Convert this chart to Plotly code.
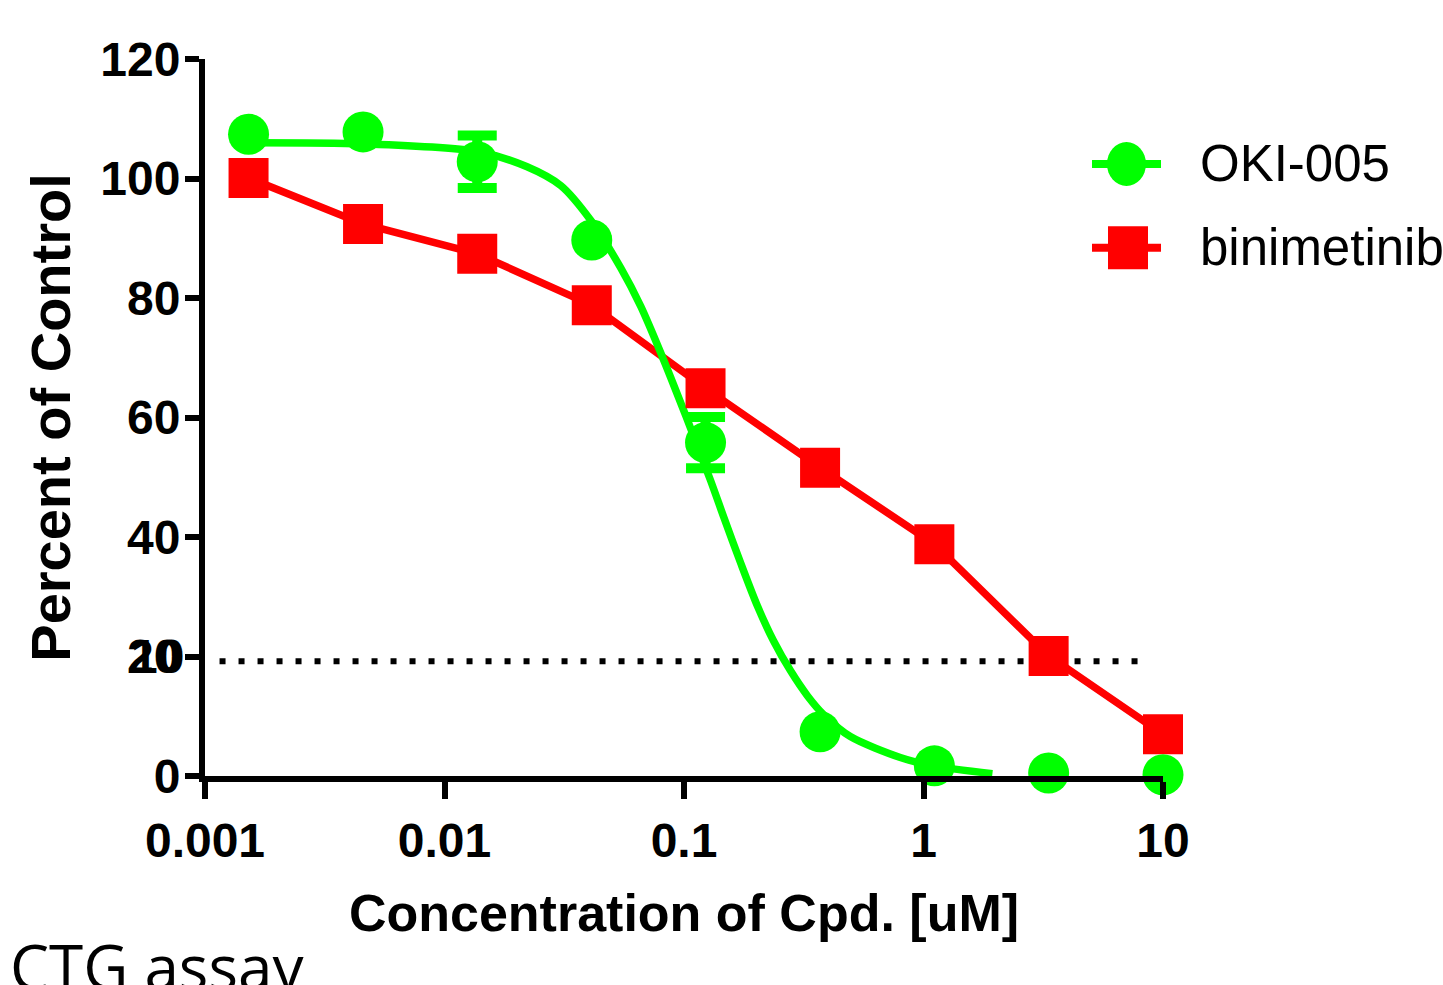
import plotly.graph_objects as go

# ---- data ----
conc = [0.00152, 0.00457, 0.0137, 0.0412, 0.123, 0.370, 1.11, 3.33, 10.0]
oki_y = [107.4, 107.8, 102.8, 89.7, 55.8, 7.4, 1.7, 0.5, 0.2]
oki_err = [0, 0, 4.4, 0, 4.3, 0, 0, 0, 0]
bini_y = [100.1, 92.4, 87.4, 78.8, 64.9, 51.6, 38.8, 20.1, 7.0]

# fitted OKI-005 curve
fit_x = [0.00152, 0.00458, 0.0138, 0.0220, 0.0306, 0.0408, 0.0545, 0.0660, 0.0800,
         0.1017, 0.129, 0.1466, 0.1726, 0.2028, 0.2367, 0.2786, 0.328, 0.382,
         0.495, 0.80, 1.099, 1.94]
fit_y = [106.0, 105.8, 104.5, 102.0, 98.8, 93.0, 85.0, 78.6, 70.8,
         60.3, 49.5, 43.3, 35.6, 28.4, 22.6, 17.6, 13.4, 10.3,
         6.6, 3.1, 1.7, 0.4]

ref_x = [0.00115, 8.5]
ref_y = [19.2, 19.2]

x_ticks = [0.001, 0.01, 0.1, 1, 10]
x_ticktext = ["0.001", "0.01", "0.1", "1", "10"]
y_ticks = [0, 20, 40, 60, 80, 100, 120]

names = ["OKI-005", "binimetinib"]
GREEN = "#00FF00"
RED = "#FF0000"
SANS = "Liberation Sans, Arial, sans-serif"

fig = go.Figure()

fig.add_trace(go.Scatter(x=ref_x, y=ref_y, mode="lines",
                         line=dict(color="black", width=6, dash="6px,13px"),
                         showlegend=False, hoverinfo="skip"))
fig.add_trace(go.Scatter(x=conc, y=bini_y, mode="lines",
                         line=dict(color=RED, width=7.5),
                         showlegend=False, cliponaxis=False))
fig.add_trace(go.Scatter(x=fit_x, y=fit_y, mode="lines",
                         line=dict(color=GREEN, width=7.5, shape="spline", smoothing=0.8),
                         showlegend=False, cliponaxis=False))
fig.add_trace(go.Scatter(x=conc, y=bini_y, mode="markers", name=names[1],
                         marker=dict(symbol="square", size=40, color=RED, line=dict(width=0)),
                         showlegend=False, cliponaxis=False))
fig.add_trace(go.Scatter(x=conc, y=oki_y, mode="markers", name=names[0],
                         marker=dict(symbol="circle", size=41, color=GREEN, line=dict(width=0)),
                         error_y=dict(type="data", array=oki_err, visible=True,
                                      color=GREEN, thickness=10, width=19.5),
                         showlegend=False, cliponaxis=False))

L, R, T, B = 205, 280, 59, 209
W, H = 1443, 985
pw, ph = W - L - R, H - T - B

def px(xp):
    return (xp - L) / pw

def py(yp):
    return (H - B - yp) / ph

shapes = []
annotations = []
# custom legend
leg = [(names[0], GREEN, "circle", 164, 163.5), (names[1], RED, "rect", 247.7, 247)]
for name, col, sym, yl, yt in leg:
    shapes.append(dict(type="line", xref="paper", yref="paper",
                       x0=px(1092), x1=px(1161), y0=py(yl), y1=py(yl),
                       line=dict(color=col, width=8)))
    if sym == "circle":
        shapes.append(dict(type="circle", xref="paper", yref="paper",
                           xsizemode="pixel", ysizemode="pixel",
                           xanchor=px(1126.5), yanchor=py(yl),
                           x0=-19.5, x1=19.5, y0=-22, y1=22,
                           fillcolor=col, line=dict(width=0)))
    else:
        shapes.append(dict(type="rect", xref="paper", yref="paper",
                           xsizemode="pixel", ysizemode="pixel",
                           xanchor=px(1128), yanchor=py(yl),
                           x0=-20, x1=20, y0=-21.5, y1=21.5,
                           fillcolor=col, line=dict(width=0)))
    annotations.append(dict(text=name, xref="paper", yref="paper",
                            x=px(1198), y=py(yt), xanchor="left", yanchor="middle",
                            showarrow=False,
                            font=dict(family=SANS, size=51, color="black")))

# overlapping "10" under the "20" tick label
annotations.append(dict(text="10", xref="paper", yref="y", x=0, y=20,
                        xanchor="right", yanchor="middle", xshift=-19,
                        showarrow=False,
                        font=dict(family=SANS, size=48, color="black", weight="bold")))

annotations.append(dict(text="CTG assay", xref="paper", yref="paper",
                        x=px(8), y=py(922), xanchor="left", yanchor="top",
                        showarrow=False,
                        font=dict(family="Open Sans, Noto Sans, sans-serif", size=62, color="black")))

fig.update_layout(
    width=W, height=H,
    margin=dict(l=L, r=R, t=T, b=B, autoexpand=False),
    paper_bgcolor="white", plot_bgcolor="white",
    showlegend=False,
    shapes=shapes, annotations=annotations,
    xaxis=dict(type="log", range=[-3, 1], tickvals=x_ticks, ticktext=x_ticktext,
               showgrid=False, zeroline=False, showline=True, linecolor="black", linewidth=6,
               ticks="outside", ticklen=17, tickwidth=6, tickcolor="black",
               tickfont=dict(family=SANS, size=48, color="black", weight="bold"),
               title=dict(text="Concentration of Cpd. [uM]", standoff=31,
                          font=dict(family=SANS, size=52, color="black", weight="bold"))),
    yaxis=dict(range=[0, 120], tickvals=y_ticks,
               showgrid=False, zeroline=False, showline=True, linecolor="black", linewidth=6,
               ticks="outside", ticklen=14, tickwidth=6, tickcolor="black",
               ticklabelstandoff=-5,
               tickfont=dict(family=SANS, size=48, color="black", weight="bold"),
               title=dict(text="Percent of Control", standoff=14,
                          font=dict(family=SANS, size=56, color="black", weight="bold"))),
)

fig.write_html("out.html")
